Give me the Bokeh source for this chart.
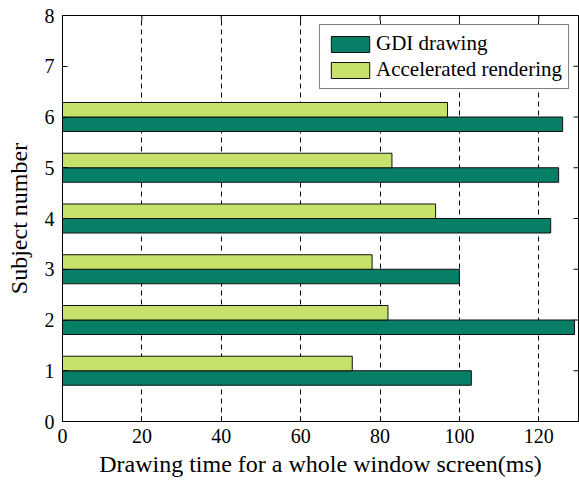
import math
from bokeh.plotting import figure
from bokeh.models import Range1d, FixedTicker, Legend, LegendItem, ColumnDataSource
from bokeh.embed import file_html
from bokeh.resources import INLINE

# Drawing time per subject (ms)
subjects = [1, 2, 3, 4, 5, 6]
gdi_ms = [103, 129, 100, 123, 125, 126]
accel_ms = [73, 82, 78, 94, 83, 97]
x_ticks = [0, 20, 40, 60, 80, 100, 120]
y_ticks = [0, 1, 2, 3, 4, 5, 6, 7, 8]
X_MAX, Y_MAX = 130, 8

SERIF = "Liberation Serif"
BAR_H = 0.286  # each bar of a pair

p = figure(width=579, height=484,
           x_range=Range1d(0, X_MAX), y_range=Range1d(0, Y_MAX),
           output_backend="svg", toolbar_location=None,
           min_border_left=62, min_border_right=1,
           min_border_top=15, min_border_bottom=63,
           background_fill_color="white", border_fill_color="white")

p.outline_line_color = "black"
p.outline_line_width = 1

src = ColumnDataSource(dict(
    gdi_y=[s - BAR_H / 2 for s in subjects],
    acc_y=[s + BAR_H / 2 for s in subjects],
    gdi=gdi_ms, acc=accel_ms))

r_gdi = p.hbar(y="gdi_y", left=0, right="gdi", height=BAR_H, source=src,
               fill_color="#077F67", line_color="#111111", line_width=1)
r_acc = p.hbar(y="acc_y", left=0, right="acc", height=BAR_H, source=src,
               fill_color="#C7E26B", line_color="#111111", line_width=1)

# grid: dashed verticals only
p.ygrid.visible = False
p.xgrid.ticker = FixedTicker(ticks=x_ticks)
p.xgrid.grid_line_color = "black"
p.xgrid.grid_line_dash = "5 4"
p.xgrid.grid_line_width = 1

for ax in (p.xaxis[0], p.yaxis[0]):
    ax.major_tick_in = 5
    ax.major_tick_out = 0
    ax.minor_tick_line_color = None
    ax.axis_line_color = "black"
    ax.major_tick_line_color = "black"
    ax.major_label_text_font = SERIF
    ax.major_label_text_font_size = "20px"
    ax.major_label_text_color = "black"
    ax.axis_label_text_font = SERIF
    ax.axis_label_text_font_size = "24px"
    ax.axis_label_text_font_style = "normal"
    ax.axis_label_text_color = "black"

p.xaxis.ticker = FixedTicker(ticks=x_ticks)
p.yaxis.ticker = FixedTicker(ticks=y_ticks)
p.xaxis.axis_label = "Drawing time for a whole window screen(ms)"
p.yaxis.axis_label = "Subject number"
p.xaxis.major_label_standoff = 7
p.xaxis.axis_label_standoff = 5
p.yaxis.major_label_standoff = 8
p.yaxis.axis_label_standoff = 10

# mirrored inward ticks on the top and right edges of the box
p.scatter(x=x_ticks, y=[Y_MAX] * len(x_ticks), marker="dash", size=10,
          angle=math.pi / 2, line_color="black", line_width=1)
p.scatter(x=[X_MAX] * len(y_ticks), y=y_ticks, marker="dash", size=10,
          line_color="black", line_width=1)

legend = Legend(items=[LegendItem(label="GDI drawing", renderers=[r_gdi]),
                       LegendItem(label="Accelerated rendering", renderers=[r_acc])],
                location="top_right")
legend.border_line_color = "black"
legend.border_line_width = 1
legend.background_fill_alpha = 1
legend.label_text_font = SERIF
legend.label_text_font_size = "21px"
legend.label_text_color = "black"
legend.glyph_width = 48
legend.glyph_height = 20
legend.label_standoff = 2
legend.spacing = 1
legend.padding = 6
legend.margin = 9
p.add_layout(legend, "center")

open("out.html", "w").write(file_html(p, INLINE))
